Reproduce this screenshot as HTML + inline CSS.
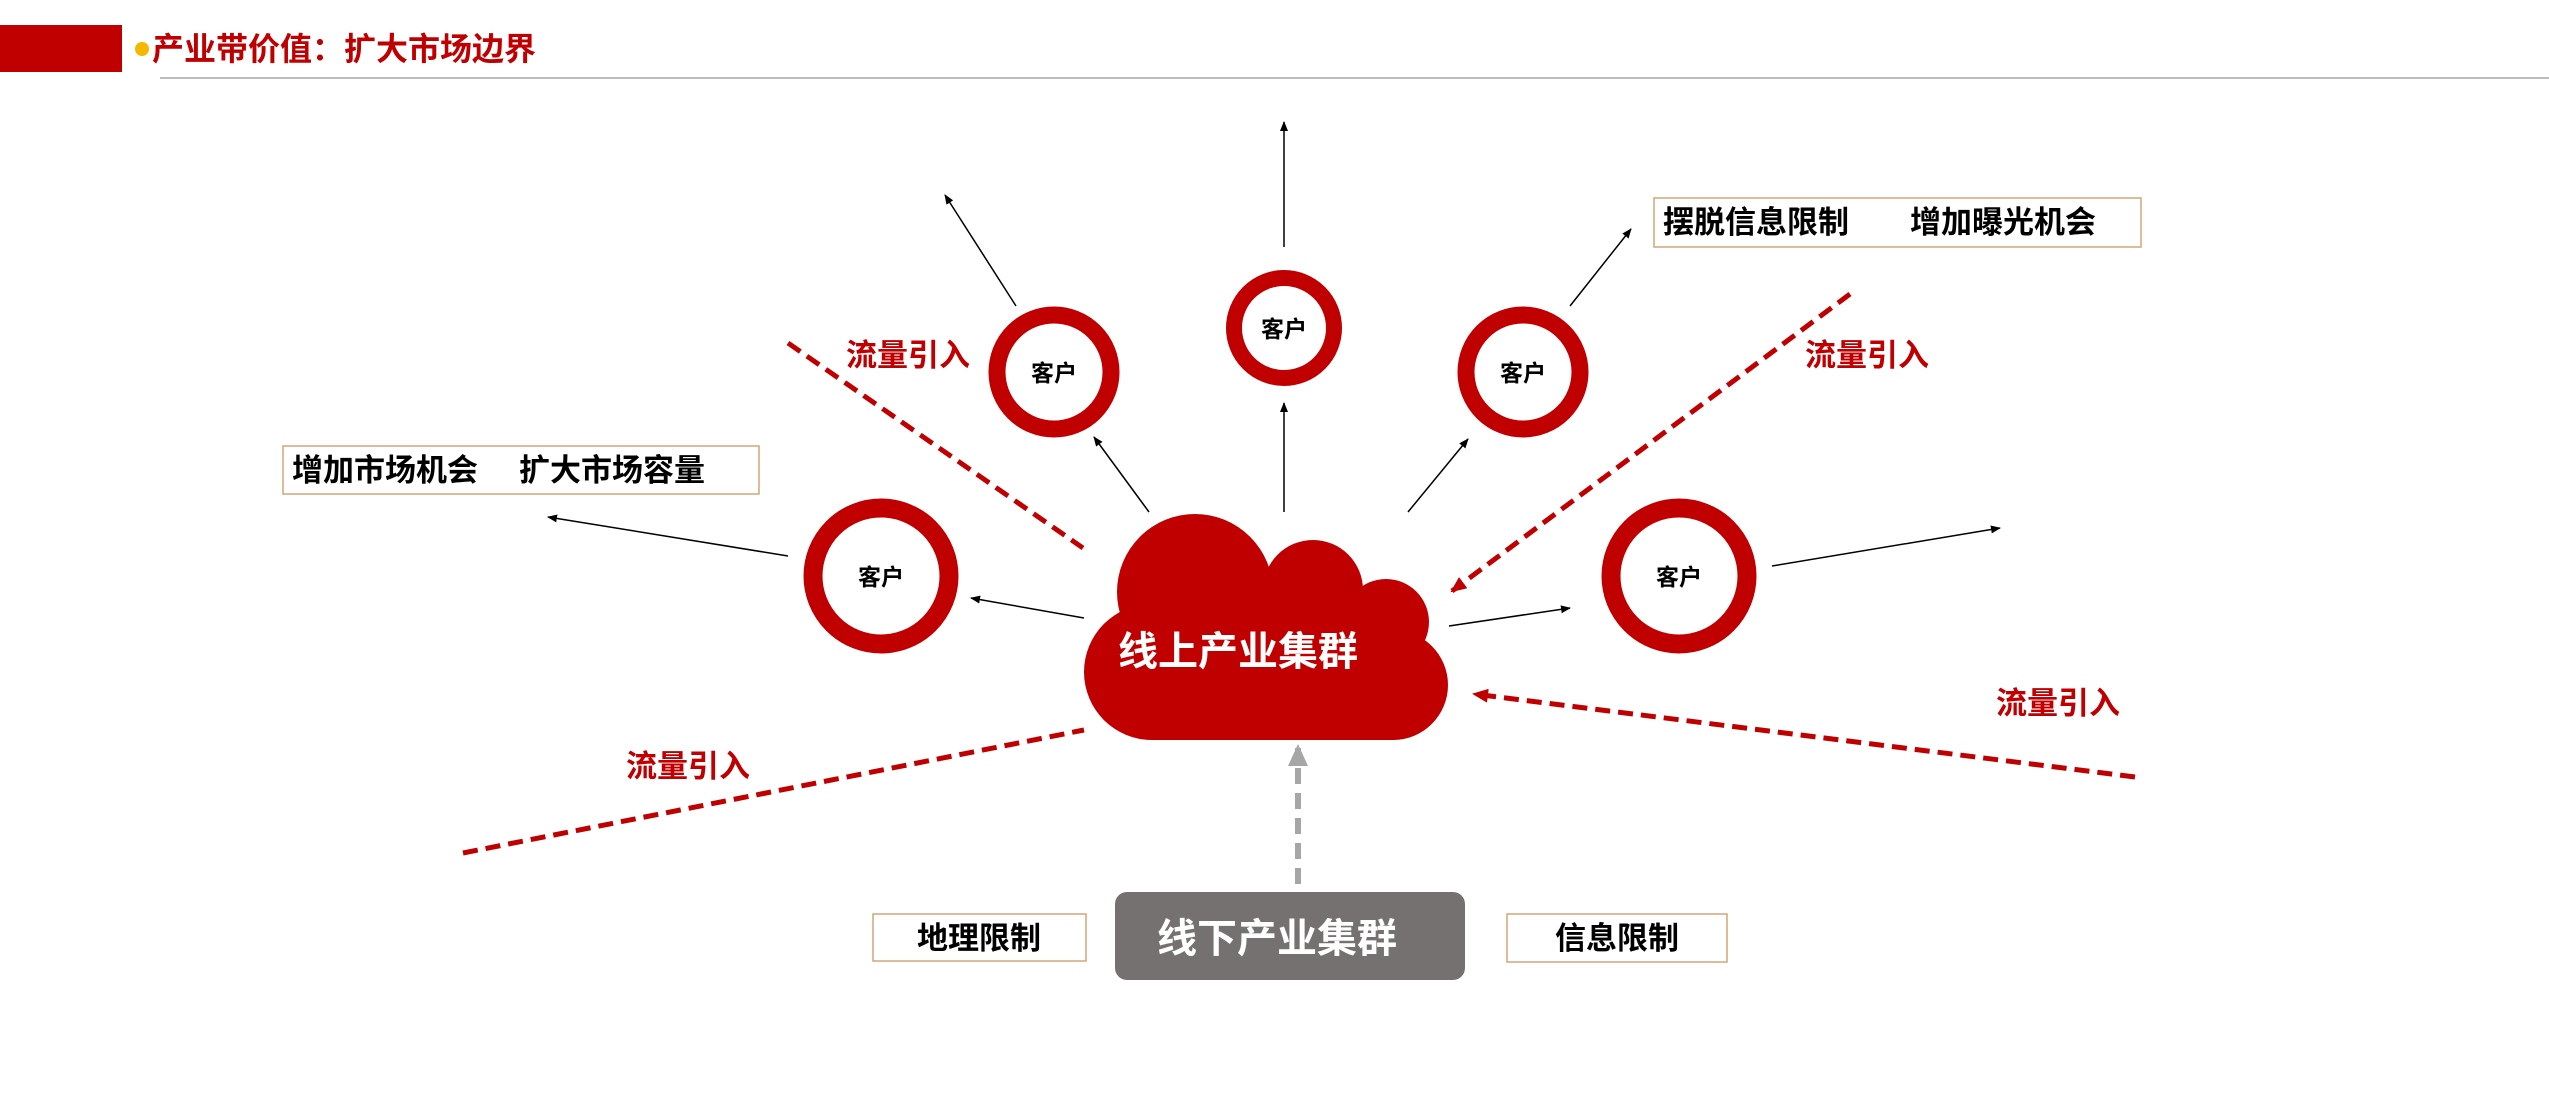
<!DOCTYPE html>
<html><head><meta charset="utf-8"><style>
html,body{margin:0;padding:0;background:#fff;}
body{width:2549px;height:1109px;overflow:hidden;position:relative;font-family:"Liberation Sans","Noto Sans CJK SC",sans-serif;}
svg{position:absolute;left:0;top:0;}
text{font-family:"Liberation Sans","Noto Sans CJK SC",sans-serif;font-weight:bold;}
</style></head><body>
<svg width="2549" height="1109" viewBox="0 0 2549 1109" xmlns="http://www.w3.org/2000/svg">
<defs>
<marker id="ab" markerWidth="10" markerHeight="8" refX="9" refY="4" orient="auto" markerUnits="userSpaceOnUse"><path d="M0,0 L10,4 L0,8 z" fill="#000"/></marker>
<marker id="ar" markerWidth="16" markerHeight="14" refX="14" refY="7" orient="auto" markerUnits="userSpaceOnUse"><path d="M0,0 L16,7 L0,14 z" fill="#c00000"/></marker>
<marker id="ag" markerWidth="22" markerHeight="20" refX="18" refY="10" orient="auto" markerUnits="userSpaceOnUse"><path d="M0,0 L22,10 L0,20 z" fill="#a6a6a6"/></marker>
</defs>
<!-- header -->
<rect x="0" y="25" width="122" height="47" fill="#c00000"/>
<circle cx="142" cy="49" r="7" fill="#f5b800"/>
<text x="152" y="60" font-size="32" fill="#c00000" textLength="384" lengthAdjust="spacingAndGlyphs">产业带价值：扩大市场边界</text>
<rect x="160" y="77" width="2389" height="2" fill="#bdbdbd"/>

<!-- red dashed traffic lines -->
<g stroke="#c00000" stroke-width="5" stroke-dasharray="15,8" fill="none">
<line x1="788" y1="343" x2="1083" y2="548"/>
<line x1="1850" y1="294" x2="1452" y2="591" marker-end="url(#ar)"/>
<line x1="463" y1="853" x2="1084" y2="730"/>
<line x1="2135" y1="777" x2="1474" y2="694" marker-end="url(#ar)"/>
</g>

<!-- thin black arrows -->
<g stroke="#000" stroke-width="1.5" fill="none" marker-end="url(#ab)">
<line x1="1149" y1="512" x2="1094" y2="437"/>
<line x1="1016" y1="306" x2="945" y2="195"/>
<line x1="1284" y1="512" x2="1284" y2="403"/>
<line x1="1284" y1="247" x2="1284" y2="122"/>
<line x1="1408" y1="512" x2="1468" y2="439"/>
<line x1="1570" y1="306" x2="1631" y2="229"/>
<line x1="1084" y1="618" x2="971" y2="598"/>
<line x1="788" y1="556" x2="548" y2="517"/>
<line x1="1449" y1="626" x2="1570" y2="608"/>
<line x1="1772" y1="566" x2="2000" y2="528"/>
</g>

<!-- gray dashed up arrow -->
<line x1="1298" y1="884" x2="1298" y2="748" stroke="#a6a6a6" stroke-width="6" stroke-dasharray="16,9" marker-end="url(#ag)"/>

<!-- cloud -->
<g fill="#c00000">
<circle cx="1195" cy="592" r="78"/>
<circle cx="1313" cy="590" r="50"/>
<circle cx="1386" cy="622" r="43"/>
<circle cx="1393" cy="685" r="55"/>
<circle cx="1152" cy="672" r="68"/>
<circle cx="1290" cy="650" r="62"/>
<rect x="1150" y="620" width="245" height="120"/>
</g>
<text x="1238" y="665" font-size="40" fill="#fff" text-anchor="middle">线上产业集群</text>

<!-- client circles -->
<g fill="#fff" stroke="#c00000">
<circle cx="1054" cy="372" r="57" stroke-width="17"/>
<circle cx="1284" cy="328" r="50" stroke-width="16"/>
<circle cx="1523" cy="372" r="57" stroke-width="17"/>
<circle cx="881" cy="576" r="68" stroke-width="19"/>
<circle cx="1679" cy="576" r="68" stroke-width="19"/>
</g>
<g font-size="23" fill="#000" text-anchor="middle">
<text x="1054" y="381">客户</text>
<text x="1284" y="337">客户</text>
<text x="1523" y="381">客户</text>
<text x="881" y="585">客户</text>
<text x="1679" y="585">客户</text>
</g>

<!-- traffic labels -->
<g font-size="31" fill="#c00000">
<text x="846" y="366">流量引入</text>
<text x="1805" y="366">流量引入</text>
<text x="626" y="777">流量引入</text>
<text x="1996" y="714">流量引入</text>
</g>

<!-- label boxes -->
<g fill="#fff" stroke="#d2a679" stroke-width="1.5">
<rect x="283" y="446" width="476" height="48"/>
<rect x="1654" y="198" width="487" height="49"/>
<rect x="873" y="914" width="213" height="47"/>
<rect x="1507" y="914" width="220" height="48"/>
</g>
<g font-size="31" fill="#000">
<text x="292" y="481">增加市场机会</text>
<text x="519" y="481">扩大市场容量</text>
<text x="1663" y="233">摆脱信息限制</text>
<text x="1910" y="233">增加曝光机会</text>
<text x="979" y="949" text-anchor="middle">地理限制</text>
<text x="1617" y="949" text-anchor="middle">信息限制</text>
</g>

<!-- offline box -->
<rect x="1115" y="892" width="350" height="88" rx="12" fill="#767171"/>
<text x="1277" y="952" font-size="40" fill="#fff" text-anchor="middle">线下产业集群</text>
</svg>
</body></html>
